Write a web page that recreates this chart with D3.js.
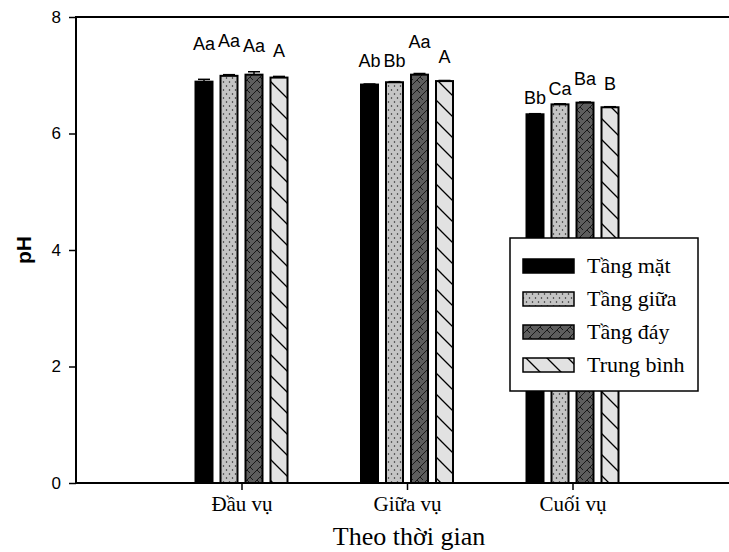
<!DOCTYPE html>
<html><head><meta charset="utf-8">
<script src="https://cdn.jsdelivr.net/npm/d3@7"></script>
<style>body{margin:0;background:#fff}svg{display:block}</style>
</head><body>
<svg id="c" width="729" height="552"></svg>
<script>
const categories = ["Đầu vụ", "Giữa vụ", "Cuối vụ"];
const seriesNames = ["Tầng mặt", "Tầng giữa", "Tầng đáy", "Trung bình"];
const tangMat   = [6.89, 6.84, 6.33];
const tangGiua  = [6.99, 6.88, 6.50];
const tangDay   = [7.01, 7.01, 6.53];
const trungBinh = [6.96, 6.90, 6.45];
const errTangMat   = [0.04, 0.01, 0.01];
const errTangGiua  = [0.02, 0.01, 0.01];
const errTangDay   = [0.05, 0.02, 0.01];
const errTrungBinh = [0.02, 0.01, 0.01];
const letters = [["Aa","Aa","Aa","A"],["Ab","Bb","Aa","A"],["Bb","Ca","Ba","B"]];
const letterAt = [[7.43,7.48,7.40,7.31],[7.14,7.14,7.47,7.21],[6.51,6.66,6.83,6.75]];
const yTicks = [0, 2, 4, 6, 8];

const values = [tangMat, tangGiua, tangDay, trungBinh];
const errs = [errTangMat, errTangGiua, errTangDay, errTrungBinh];

const svg = d3.select("#c");
const x = d3.scaleLinear().domain([0, 4]).range([76, 738]);
const y = d3.scaleLinear().domain([0, 8]).range([483, 17]);
const x1 = d3.scaleBand().domain(d3.range(4)).range([-46, 46]).paddingInner(0.32);

// patterns
const defs = svg.append("defs");
const pDot = defs.append("pattern").attr("id","pDot").attr("patternUnits","userSpaceOnUse").attr("width",6).attr("height",8);
pDot.append("rect").attr("width",6).attr("height",8).attr("fill","#c4c4c4");
pDot.append("circle").attr("cx",1.5).attr("cy",2).attr("r",0.75).attr("fill","#222");
pDot.append("circle").attr("cx",4.5).attr("cy",6).attr("r",0.75).attr("fill","#222");

const pDark = defs.append("pattern").attr("id","pDark").attr("patternUnits","userSpaceOnUse").attr("width",10).attr("height",10);
pDark.append("rect").attr("width",10).attr("height",10).attr("fill","#5e5e5e");
pDark.append("path").attr("d","M0,7 L7,0 M7,10 L10,7 M7,0 L10,3 M0,7 L3,10").attr("stroke","#111").attr("stroke-width",0.9).attr("fill","none");

const pHatch = defs.append("pattern").attr("id","pHatch").attr("patternUnits","userSpaceOnUse").attr("width",21).attr("height",21);
pHatch.append("rect").attr("width",21).attr("height",21).attr("fill","#e2e2e2");
pHatch.append("path").attr("d","M0,0 L21,21 M-6,15 L6,27 M15,-6 L27,6").attr("stroke","#000").attr("stroke-width",1.3).attr("fill","none");

const fills = ["#000", "url(#pDot)", "url(#pDark)", "url(#pHatch)"];

// bars
categories.forEach((c, ci) => {
  const cx = x(ci + 1);
  const g = svg.append("g");
  values.forEach((vals, si) => {
    const bx = cx + x1(si), bw = x1.bandwidth();
    const v = vals[ci], e = errs[si][ci];
    g.append("line").attr("x1", bx + bw/2).attr("x2", bx + bw/2).attr("y1", y(v)).attr("y2", y(v + e)).attr("stroke","#000").attr("stroke-width",1.5);
    g.append("line").attr("x1", bx + bw/2 - 6).attr("x2", bx + bw/2 + 6).attr("y1", y(v + e)).attr("y2", y(v + e)).attr("stroke","#000").attr("stroke-width",1.5);
    g.append("rect").attr("x", bx).attr("y", y(v)).attr("width", bw).attr("height", y(0) - y(v))
      .attr("fill", fills[si]).attr("stroke","#000").attr("stroke-width",2);
    g.append("text").attr("x", bx + bw/2).attr("y", y(letterAt[ci][si])).attr("text-anchor","middle")
      .attr("font-family","Liberation Sans, Arial, sans-serif").attr("font-size",18).text(letters[ci][si]);
  });
});

// frame top line
svg.append("line").attr("x1",75).attr("x2",729).attr("y1",y(8)).attr("y2",y(8)).attr("stroke","#000").attr("stroke-width",2);

// y axis
const yAxis = svg.append("g").attr("transform","translate(76,0)")
  .call(d3.axisLeft(y).tickValues(yTicks).tickSize(7).tickPadding(8).tickFormat(d3.format("d")));
yAxis.select(".domain").attr("stroke-width",2).attr("d","M0,"+y(0)+"V"+y(8));
yAxis.selectAll(".tick line").attr("stroke-width",1.5);
yAxis.selectAll("text").attr("font-family","Liberation Sans, Arial, sans-serif").attr("font-size",17).attr("fill","#000");

// x axis
const xAxis = svg.append("g").attr("transform","translate(0," + y(0) + ")")
  .call(d3.axisBottom(x).tickValues([1,2,3]).tickSize(7).tickPadding(6).tickFormat(d => categories[d-1]));
xAxis.select(".domain").attr("stroke-width",2).attr("d","M75,0H729");
xAxis.selectAll(".tick line").attr("stroke-width",1.5);
xAxis.selectAll("text").attr("font-family","Liberation Serif, Times New Roman, serif").attr("font-size",21).attr("fill","#000");

// axis titles
svg.append("text").attr("x", 409).attr("y", 545).attr("text-anchor","middle")
  .attr("font-family","Liberation Serif, Times New Roman, serif").attr("font-size",26).text("Theo thời gian");
svg.append("text").attr("transform","translate(31,250) rotate(-90)").attr("text-anchor","middle")
  .attr("font-family","Liberation Sans, Arial, sans-serif").attr("font-weight","bold").attr("font-size",21).text("pH");

// legend
const lg = svg.append("g");
lg.append("rect").attr("x",510).attr("y",238).attr("width",188).attr("height",153).attr("fill","#fff").attr("stroke","#000").attr("stroke-width",1.5);
seriesNames.forEach((n, i) => {
  const cy = 266 + i * 33;
  lg.append("rect").attr("x",523).attr("y",cy - 7).attr("width",51).attr("height",14).attr("fill",fills[i]).attr("stroke","#000").attr("stroke-width",1.5);
  lg.append("text").attr("x",587).attr("y",cy + 7).attr("font-family","Liberation Serif, Times New Roman, serif").attr("font-size",22).text(n);
});
</script>
</body></html>
